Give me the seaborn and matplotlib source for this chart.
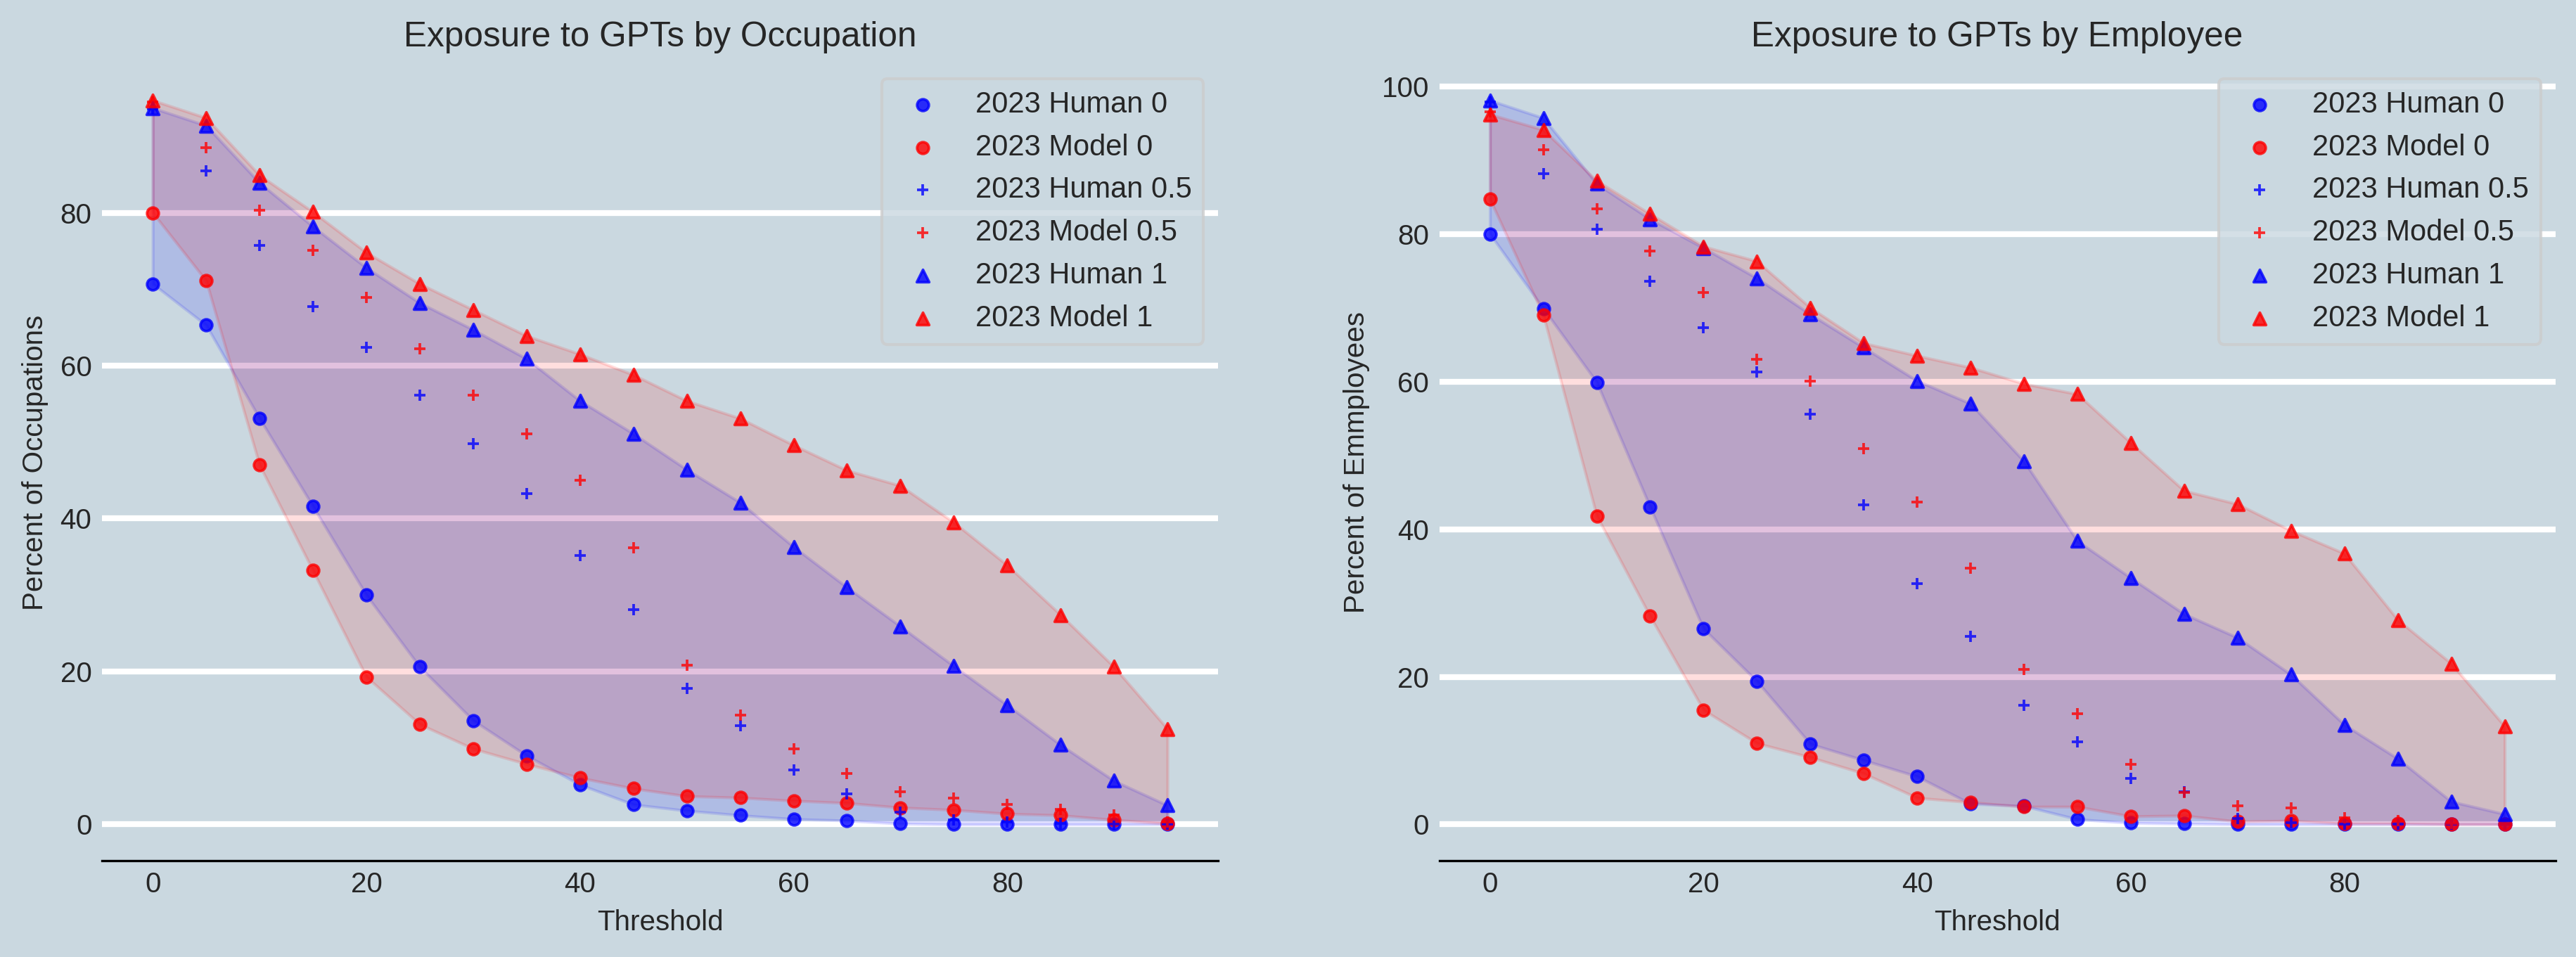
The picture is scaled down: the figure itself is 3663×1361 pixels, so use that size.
import numpy as np
import pandas as pd
import matplotlib
matplotlib.use("Agg")
import matplotlib.pyplot as plt
import seaborn as sns

thresholds = [0, 5, 10, 15, 20, 25, 30, 35, 40, 45, 50, 55, 60, 65, 70, 75, 80, 85, 90, 95]

occ_human_0 = [70.7, 65.3, 53.1, 41.6, 30.0, 20.6, 13.6, 9.0, 5.2, 2.6, 1.8, 1.2, 0.7, 0.5, 0.1, 0.0, 0.0, 0.0, 0.0, 0.0]
occ_model_0 = [80.0, 71.1, 47.0, 33.2, 19.3, 13.1, 9.9, 7.9, 6.1, 4.7, 3.7, 3.5, 3.1, 2.8, 2.2, 1.9, 1.4, 1.2, 0.6, 0.1]
occ_human_05 = [93.6, 85.5, 75.7, 67.7, 62.4, 56.1, 49.8, 43.3, 35.2, 28.1, 17.8, 12.9, 7.1, 4.0, 1.6, 0.6, 0.3, 0.1, 0.0, 0.0]
occ_model_05 = [94.5, 88.5, 80.3, 75.1, 68.9, 62.2, 56.1, 51.1, 45.0, 36.2, 20.8, 14.3, 9.9, 6.7, 4.3, 3.4, 2.6, 2.0, 1.2, 0.3]
occ_human_1 = [93.7, 91.4, 83.9, 78.2, 72.8, 68.2, 64.7, 60.9, 55.4, 51.1, 46.4, 42.1, 36.3, 31.0, 25.9, 20.7, 15.6, 10.4, 5.7, 2.5]
occ_model_1 = [94.7, 92.4, 84.9, 80.1, 74.8, 70.7, 67.3, 63.9, 61.5, 58.8, 55.4, 53.1, 49.6, 46.3, 44.3, 39.5, 33.9, 27.4, 20.6, 12.5]

emp_human_0 = [80.0, 69.9, 59.9, 43.0, 26.5, 19.4, 10.9, 8.7, 6.5, 2.8, 2.5, 0.7, 0.2, 0.1, 0.0, 0.0, 0.0, 0.0, 0.0, 0.0]
emp_model_0 = [84.7, 69.0, 41.8, 28.2, 15.5, 11.0, 9.1, 6.9, 3.6, 3.0, 2.4, 2.4, 1.1, 1.2, 0.4, 0.5, 0.1, 0.1, 0.0, 0.0]
emp_human_05 = [97.9, 88.2, 80.6, 73.6, 67.3, 61.3, 55.6, 43.3, 32.6, 25.5, 16.1, 11.2, 6.2, 4.4, 0.8, 0.2, 0.0, 0.0, 0.0, 0.0]
emp_model_05 = [96.5, 91.4, 83.4, 77.7, 72.1, 63.0, 60.1, 50.9, 43.7, 34.7, 21.0, 15.0, 8.1, 4.3, 2.5, 2.2, 0.9, 0.5, 0.1, 0.0]
emp_human_1 = [98.1, 95.7, 86.8, 82.0, 78.1, 74.0, 69.1, 64.6, 60.1, 57.0, 49.2, 38.4, 33.4, 28.5, 25.3, 20.3, 13.5, 8.9, 3.1, 1.4]
emp_model_1 = [96.2, 94.1, 87.2, 82.7, 78.3, 76.3, 70.0, 65.2, 63.5, 61.9, 59.7, 58.3, 51.7, 45.2, 43.4, 39.8, 36.7, 27.7, 21.8, 13.3]

titles = ["Exposure to GPTs by Occupation", "Exposure to GPTs by Employee"]
ylabels = ["Percent of Occupations", "Percent of Emmployees"]
xlabel = "Threshold"

BG = "#cad8e0"
sns.set_theme(style="darkgrid", rc={
    "axes.facecolor": BG,
    "figure.facecolor": BG,
    "savefig.facecolor": BG,
    "grid.color": "white",
    "grid.linewidth": 2.0,
    "xtick.major.size": 0,
    "ytick.major.size": 0,
    "xtick.major.pad": 3.5,
    "ytick.major.pad": 3.5,
})
plt.rcParams["font.family"] = ["Liberation Sans", "DejaVu Sans"]

fig, axes = plt.subplots(1, 2, figsize=(3663 / 300, 1361 / 300), dpi=300)
fig.subplots_adjust(left=0.0396, right=0.992, bottom=0.1007, top=0.933, wspace=0.198)

panels = [
    (occ_human_0, occ_model_0, occ_human_05, occ_model_05, occ_human_1, occ_model_1),
    (emp_human_0, emp_model_0, emp_human_05, emp_model_05, emp_human_1, emp_model_1),
]

for ax, data, title, ylab in zip(axes, panels, titles, ylabels):
    h0, m0, h05, m05, h1, m1 = data
    ax.fill_between(thresholds, h0, h1, color="blue", alpha=0.13, linewidth=1.0)
    ax.fill_between(thresholds, m0, m1, color="red", alpha=0.13, linewidth=1.0)
    series = [
        (h0, "2023 Human 0", "blue", "o", 16),
        (m0, "2023 Model 0", "red", "o", 16),
        (h05, "2023 Human 0.5", "blue", "+", 14),
        (m05, "2023 Model 0.5", "red", "+", 14),
        (h1, "2023 Human 1", "blue", "^", 18),
        (m1, "2023 Model 1", "red", "^", 18),
    ]
    for vals, lab, col, mk, s in series:
        sns.scatterplot(x=thresholds, y=vals, ax=ax, color=col, marker=mk, s=s,
                        alpha=0.8, edgecolor=col, linewidth=0.9, label=lab, zorder=3)
    ax.set_title(title, fontsize=11.9)
    ax.set_xlabel(xlabel, fontsize=9.7, labelpad=4)
    ax.set_ylabel(ylab, fontsize=9.7, labelpad=4)
    ax.tick_params(labelsize=9.7, length=0, pad=3.5)
    ax.grid(axis="x", visible=False)
    ax.grid(axis="y", color="white", linewidth=2.0)
    ax.set_axisbelow(True)
    for side in ["left", "right", "top"]:
        ax.spines[side].set_visible(False)
    ax.spines["bottom"].set_visible(True)
    ax.spines["bottom"].set_color("black")
    ax.spines["bottom"].set_linewidth(0.8)
    ax.set_xticks([0, 20, 40, 60, 80])
    ax.margins(x=0.05, y=0.05)
    leg = ax.legend(loc="upper right", fontsize=10, frameon=True)
    leg.get_frame().set_edgecolor("#cccccc")
    leg.get_frame().set_facecolor(BG)

axes[0].set_yticks([0, 20, 40, 60, 80])
axes[1].set_yticks([0, 20, 40, 60, 80, 100])

fig.savefig("out.png", dpi=300)
